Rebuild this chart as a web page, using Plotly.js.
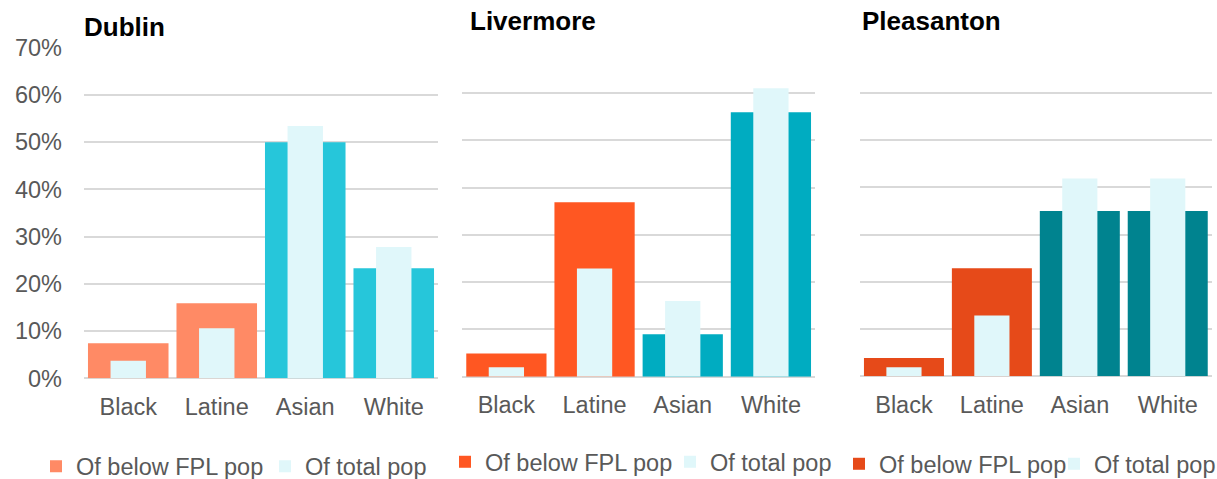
<!DOCTYPE html>
<html>
<head>
<meta charset="utf-8">
<script src="https://cdn.plot.ly/plotly-3.0.1.min.js"></script>
<style>
  html, body { margin: 0; padding: 0; background: #ffffff; }
  #chart { width: 1217px; height: 479px; }
</style>
</head>
<body>
<div id="chart"></div>
<script>
// Share of each group, in percent, by city
const categories = ['Black', 'Latine', 'Asian', 'White'];

const dublinBelowFpl = [7.4, 15.9, 50.0, 23.3];
const dublinTotal = [3.7, 10.6, 53.4, 27.8];

const livermoreBelowFpl = [4.9, 36.9, 9.0, 55.9];
const livermoreTotal = [2.0, 22.9, 16.0, 61.0];

const pleasantonBelowFpl = [3.9, 22.9, 35.0, 35.0];
const pleasantonTotal = [1.9, 12.9, 41.9, 41.9];

const cityNames = ['Dublin', 'Livermore', 'Pleasanton'];
const seriesNames = ['Of below FPL pop', 'Of total pop'];

// Colours: warm tone for Black/Latine, cool tone for Asian/White
const warm = ['#FF8A65', '#FF5722', '#E64A19'];
const cool = ['#26C6DA', '#00ACC1', '#00838F'];
const light = '#E0F7FA';

const W = 1217, H = 479;
const px = v => v / W;
const py = v => 1 - v / H;

const FONT = 'Liberation Sans, Arial, sans-serif';
const GREY = '#595959';

// Panel geometry in pixels; each legend entry gets its own legend box
const panels = [
  { below: dublinBelowFpl, total: dublinTotal, xd: [84, 438], yd: [378.3, 47.7],
    legendX: [36, 265], legendY: 466.5, titleX: 82, titleY: 27 },
  { below: livermoreBelowFpl, total: livermoreTotal, xd: [462.3, 815], yd: [376.7, 45.7],
    legendX: [445, 670], legendY: 462, titleX: 468, titleY: 21 },
  { below: pleasantonBelowFpl, total: pleasantonTotal, xd: [860, 1211.7], yd: [376.3, 45.7],
    legendX: [839, 1054], legendY: 464, titleX: 860, titleY: 21 }
];

const data = [];
const layout = {
  width: W,
  height: H,
  margin: { l: 0, r: 0, t: 0, b: 0, autoexpand: false },
  paper_bgcolor: '#ffffff',
  plot_bgcolor: '#ffffff',
  barmode: 'overlay',
  showlegend: true,
  font: { family: FONT, color: GREY, size: 23.5 },
  annotations: []
};

function legendBox(x, y) {
  return {
    visible: true,
    orientation: 'h',
    x: px(x),
    y: py(y),
    xanchor: 'left',
    yanchor: 'middle',
    xref: 'paper',
    yref: 'paper',
    bgcolor: 'rgba(0,0,0,0)',
    borderwidth: 0,
    itemwidth: 30,
    font: { family: FONT, size: 23.5, color: GREY }
  };
}

let legendCount = 0;
function nextLegendId() {
  legendCount += 1;
  return legendCount === 1 ? 'legend' : 'legend' + legendCount;
}

panels.forEach((p, i) => {
  const n = i === 0 ? '' : String(i + 1);
  const xa = 'x' + n, ya = 'y' + n;

  const belowLegend = nextLegendId();
  const totalLegend = nextLegendId();

  data.push({
    type: 'bar',
    name: seriesNames[0],
    x: categories,
    y: p.below,
    xaxis: xa,
    yaxis: ya,
    width: 0.91,
    marker: {
      color: categories.map((c, k) => (k < 2 ? warm[i] : cool[i])),
      line: { width: 0 }
    },
    showlegend: true,
    legend: belowLegend,
    hoverinfo: 'skip'
  });
  data.push({
    type: 'bar',
    name: seriesNames[1],
    x: categories,
    y: p.total,
    xaxis: xa,
    yaxis: ya,
    width: 0.40,
    marker: { color: light, line: { width: 0 } },
    showlegend: true,
    legend: totalLegend,
    hoverinfo: 'skip'
  });

  layout[belowLegend] = legendBox(p.legendX[0], p.legendY);
  layout[totalLegend] = legendBox(p.legendX[1], p.legendY);

  layout['xaxis' + n] = {
    domain: [px(p.xd[0]), px(p.xd[1])],
    anchor: ya,
    type: 'category',
    range: [-0.5, 3.5],
    showgrid: false,
    showline: false,
    zeroline: false,
    ticks: '',
    ticklabelstandoff: 12,
    tickfont: { family: FONT, size: 23.5, color: GREY },
    fixedrange: true
  };
  layout['yaxis' + n] = {
    domain: [py(p.yd[0]), py(p.yd[1])],
    anchor: xa,
    range: [0, 70],
    dtick: 10,
    tick0: 0,
    ticksuffix: '%',
    showticklabels: i === 0,
    showgrid: true,
    gridcolor: '#D9D9D9',
    gridwidth: 2,
    zeroline: true,
    zerolinecolor: '#D9D9D9',
    zerolinewidth: 2,
    showline: false,
    ticks: '',
    ticklabelstandoff: 21,
    tickfont: { family: FONT, size: 23.5, color: GREY },
    fixedrange: true,
    layer: 'below traces'
  };

  layout.annotations.push({
    text: '<b>' + cityNames[i] + '</b>',
    xref: 'paper',
    yref: 'paper',
    x: px(p.titleX),
    y: py(p.titleY),
    xanchor: 'left',
    yanchor: 'middle',
    showarrow: false,
    font: { family: FONT, size: 26, color: '#000000' }
  });
});

Plotly.newPlot('chart', data, layout, { displayModeBar: false, staticPlot: true });
</script>
</body>
</html>
